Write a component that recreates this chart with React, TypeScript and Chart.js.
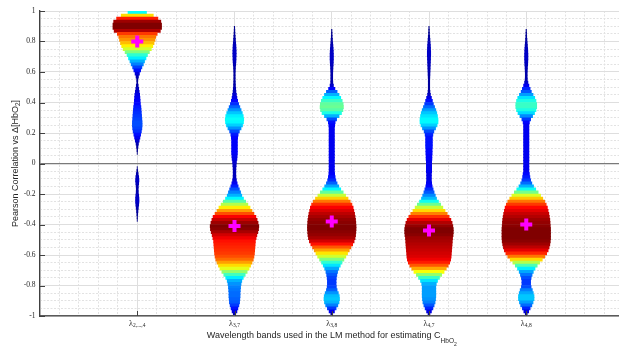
import React, { useEffect, useRef } from 'react';
import { Chart, registerables } from 'chart.js';

Chart.register(...registerables);

// Category positions on the x axis and their band labels (λ with subscript)
const GROUP_POSITIONS = [1, 2, 3, 4, 5];
const GROUP_SUBSCRIPTS = ['2,...,4', '3,7', '3,8', '4,7', '4,8'];

// Mean correlation of each group (magenta markers)
const MEAN_VALUES = [0.8, -0.41, -0.38, -0.44, -0.4];

// Major y tick values
const Y_TICK_VALUES = [-1, -0.8, -0.6, -0.4, -0.2, 0, 0.2, 0.4, 0.6, 0.8, 1];

// Density bins: centres from 0.99 down to -0.99 in steps of 0.02
const BIN_STEP = 0.02;
const BIN_CENTERS = Array.from({ length: 100 }, (_, i) => Math.round((0.99 - BIN_STEP * i) * 100) / 100);

// Normalised densities per bin (top to bottom), one array per group
const DENSITY_L2_4 = [
  0.38, 0.66, 0.85, 0.97, 1.0, 1.0, 0.95, 0.82, 0.76, 0.73,
  0.69, 0.64, 0.58, 0.5, 0.42, 0.36, 0.3, 0.25, 0.19, 0.14,
  0.09, 0.05, 0.025, 0.02, 0.04, 0.06, 0.08, 0.1, 0.11, 0.12,
  0.13, 0.15, 0.16, 0.17, 0.18, 0.19, 0.2, 0.2, 0.19, 0.17,
  0.14, 0.11, 0.08, 0.05, 0.03, 0.015, 0.005, 0, 0, 0,
  0, 0.005, 0.02, 0.04, 0.06, 0.07, 0.06, 0.045, 0.04, 0.045,
  0.06, 0.07, 0.07, 0.06, 0.045, 0.03, 0.02, 0.01, 0.005, 0,
  0, 0, 0, 0, 0, 0, 0, 0, 0, 0,
  0, 0, 0, 0, 0, 0, 0, 0, 0, 0,
  0, 0, 0, 0, 0, 0, 0, 0, 0, 0,
];
const DENSITY_L3_7 = [
  0, 0, 0, 0, 0, 0.01, 0.015, 0.02, 0.03, 0.04,
  0.05, 0.06, 0.065, 0.07, 0.07, 0.065, 0.06, 0.05, 0.04, 0.035,
  0.03, 0.03, 0.03, 0.035, 0.04, 0.05, 0.06, 0.08, 0.1, 0.13,
  0.17, 0.22, 0.27, 0.32, 0.36, 0.38, 0.37, 0.33, 0.27, 0.2,
  0.15, 0.13, 0.12, 0.12, 0.12, 0.12, 0.12, 0.11, 0.1, 0.08,
  0.07, 0.06, 0.055, 0.055, 0.06, 0.08, 0.11, 0.15, 0.2, 0.25,
  0.3, 0.37, 0.46, 0.55, 0.64, 0.72, 0.8, 0.88, 0.93, 0.97,
  1.0, 0.99, 0.96, 0.92, 0.89, 0.86, 0.85, 0.84, 0.83, 0.82,
  0.8, 0.77, 0.72, 0.66, 0.6, 0.52, 0.44, 0.36, 0.3, 0.27,
  0.25, 0.24, 0.23, 0.23, 0.22, 0.21, 0.18, 0.14, 0.1, 0.05,
];
const DENSITY_L3_8 = [
  0, 0, 0, 0, 0, 0, 0.01, 0.015, 0.02, 0.03,
  0.04, 0.05, 0.06, 0.065, 0.07, 0.07, 0.065, 0.06, 0.05, 0.045,
  0.04, 0.04, 0.04, 0.045, 0.07, 0.13, 0.22, 0.3, 0.37, 0.43,
  0.47, 0.48, 0.46, 0.4, 0.3, 0.2, 0.14, 0.12, 0.11, 0.11,
  0.11, 0.11, 0.11, 0.11, 0.11, 0.11, 0.11, 0.11, 0.11, 0.11,
  0.11, 0.11, 0.11, 0.12, 0.14, 0.17, 0.22, 0.29, 0.37, 0.47,
  0.57, 0.67, 0.76, 0.83, 0.88, 0.91, 0.94, 0.96, 0.98, 0.99,
  1.0, 1.0, 0.99, 0.98, 0.96, 0.92, 0.86, 0.79, 0.72, 0.65,
  0.58, 0.5, 0.42, 0.35, 0.29, 0.24, 0.21, 0.19, 0.18, 0.18,
  0.19, 0.22, 0.27, 0.31, 0.32, 0.3, 0.25, 0.18, 0.11, 0.04,
];
const DENSITY_L4_7 = [
  0, 0, 0, 0, 0, 0.01, 0.015, 0.02, 0.03, 0.04,
  0.05, 0.06, 0.065, 0.07, 0.07, 0.065, 0.06, 0.055, 0.05, 0.045,
  0.04, 0.035, 0.03, 0.03, 0.03, 0.03, 0.04, 0.06, 0.1, 0.14,
  0.18, 0.23, 0.28, 0.32, 0.35, 0.37, 0.37, 0.33, 0.27, 0.2,
  0.16, 0.14, 0.14, 0.14, 0.14, 0.13, 0.13, 0.12, 0.12, 0.11,
  0.11, 0.11, 0.11, 0.1, 0.1, 0.1, 0.11, 0.13, 0.17, 0.21,
  0.26, 0.31, 0.39, 0.48, 0.57, 0.66, 0.75, 0.83, 0.9, 0.95,
  0.98, 1.0, 1.0, 0.99, 0.97, 0.96, 0.95, 0.94, 0.93, 0.92,
  0.91, 0.89, 0.85, 0.79, 0.71, 0.62, 0.52, 0.43, 0.35, 0.3,
  0.28, 0.28, 0.28, 0.28, 0.27, 0.25, 0.21, 0.16, 0.1, 0.04,
];
const DENSITY_L4_8 = [
  0, 0, 0, 0, 0, 0, 0.01, 0.015, 0.02, 0.03,
  0.04, 0.05, 0.06, 0.065, 0.07, 0.07, 0.065, 0.06, 0.05, 0.045,
  0.04, 0.04, 0.045, 0.07, 0.11, 0.16, 0.21, 0.28, 0.35, 0.4,
  0.43, 0.43, 0.4, 0.34, 0.26, 0.18, 0.13, 0.11, 0.11, 0.11,
  0.11, 0.11, 0.11, 0.11, 0.11, 0.11, 0.11, 0.11, 0.11, 0.11,
  0.11, 0.11, 0.11, 0.13, 0.15, 0.18, 0.23, 0.3, 0.39, 0.49,
  0.59, 0.68, 0.76, 0.82, 0.87, 0.9, 0.93, 0.95, 0.97, 0.98,
  0.99, 1.0, 1.0, 1.0, 1.0, 0.99, 0.97, 0.94, 0.9, 0.84,
  0.76, 0.66, 0.55, 0.45, 0.36, 0.29, 0.24, 0.2, 0.18, 0.18,
  0.2, 0.25, 0.29, 0.32, 0.32, 0.28, 0.23, 0.16, 0.1, 0.04,
];
const DENSITIES = [DENSITY_L2_4, DENSITY_L3_7, DENSITY_L3_8, DENSITY_L4_7, DENSITY_L4_8];

// Drawing constants
const CANVAS_W = 640;
const CANVAS_H = 347;
const VIOLIN_HALF_WIDTH = 0.25; // in x-axis units, for density 1
const TEXT_COLOR = '#262626';
const AXIS_COLOR = '#404040';
const MAJOR_GRID = '#dedede';
const MINOR_GRID = '#e2e2e2';
const SERIF = '"Liberation Serif", "DejaVu Serif", serif';
const SANS = '"Liberation Sans", Arial, sans-serif';

// MATLAB-style jet colour map
function jet(t: number): string {
  const clamp = (v: number) => Math.max(0, Math.min(1, v));
  const r = clamp(1.5 - Math.abs(4 * t - 3));
  const g = clamp(1.5 - Math.abs(4 * t - 2));
  const b = clamp(1.5 - Math.abs(4 * t - 1));
  return `rgb(${Math.round(r * 255)}, ${Math.round(g * 255)}, ${Math.round(b * 255)})`;
}

type Seg = { text: string; size: number; dy: number; family: string };

// Draws a run of text segments (for subscripts) centred on cx
function drawSegments(ctx: CanvasRenderingContext2D, segs: Seg[], cx: number, baseY: number) {
  let total = 0;
  const widths = segs.map((s) => {
    ctx.font = `${s.size}px ${s.family}`;
    const w = ctx.measureText(s.text).width;
    total += w;
    return w;
  });
  let x = cx - total / 2;
  ctx.textAlign = 'left';
  ctx.textBaseline = 'alphabetic';
  segs.forEach((s, i) => {
    ctx.font = `${s.size}px ${s.family}`;
    ctx.fillText(s.text, x, baseY + s.dy);
    x += widths[i];
  });
}

const axisDecorations = {
  id: 'axisDecorations',
  afterDraw(chart: any) {
    const { ctx, chartArea, scales } = chart;
    const xs = scales.x;
    const ys = scales.y;
    ctx.save();

    // inward tick marks
    ctx.strokeStyle = AXIS_COLOR;
    ctx.lineWidth = 1;
    Y_TICK_VALUES.forEach((v) => {
      const py = Math.round(ys.getPixelForValue(v)) + 0.5;
      ctx.beginPath();
      ctx.moveTo(chartArea.left, py);
      ctx.lineTo(chartArea.left + 5, py);
      ctx.stroke();
    });
    GROUP_POSITIONS.forEach((p) => {
      const px = Math.round(xs.getPixelForValue(p)) + 0.5;
      ctx.beginPath();
      ctx.moveTo(px, chartArea.bottom);
      ctx.lineTo(px, chartArea.bottom - 5);
      ctx.stroke();
    });

    ctx.fillStyle = TEXT_COLOR;

    // x tick labels: λ with subscript
    GROUP_POSITIONS.forEach((p, i) => {
      const px = xs.getPixelForValue(p);
      drawSegments(
        ctx,
        [
          { text: 'λ', size: 8, dy: 0, family: SERIF },
          { text: GROUP_SUBSCRIPTS[i], size: 5.5, dy: 1.5, family: SERIF },
        ],
        px,
        chartArea.bottom + 9.7
      );
    });

    // x axis title
    drawSegments(
      ctx,
      [
        { text: 'Wavelength bands used in the LM method for estimating C', size: 9, dy: 0, family: SANS },
        { text: 'HbO', size: 6.5, dy: 4.5, family: SANS },
        { text: '2', size: 5, dy: 8, family: SANS },
      ],
      (chartArea.left + chartArea.right) / 2,
      338
    );

    // y axis title (rotated)
    ctx.translate(17.5, (chartArea.top + chartArea.bottom) / 2);
    ctx.rotate(-Math.PI / 2);
    drawSegments(
      ctx,
      [
        { text: 'Pearson Correlation vs Δ[HbO', size: 9, dy: 0, family: SANS },
        { text: '2', size: 6.5, dy: 2.5, family: SANS },
        { text: ']', size: 9, dy: 0, family: SANS },
      ],
      0,
      0
    );
    ctx.restore();
  },
};

const isMultipleOf = (v: number, step: number) => Math.abs(v / step - Math.round(v / step)) < 1e-6;

export default function App() {
  const canvasRef = useRef<HTMLCanvasElement>(null);

  useEffect(() => {
    const canvas = canvasRef.current;
    if (!canvas) return;

    const violinSets = DENSITIES.map((dens, k) => {
      const pos = GROUP_POSITIONS[k];
      const rows = BIN_CENTERS.map((c, i) => ({ c, d: dens[i] })).filter((r) => r.d > 0);
      return {
        type: 'bar' as const,
        indexAxis: 'y' as const,
        xAxisID: 'x',
        yAxisID: 'y',
        data: rows.map((r) => ({ y: r.c, x: [pos - r.d * VIOLIN_HALF_WIDTH, pos + r.d * VIOLIN_HALF_WIDTH] })),
        backgroundColor: rows.map((r) => jet(r.d)),
        borderWidth: 0,
        barPercentage: 1,
        categoryPercentage: 1,
        grouped: false,
        order: 2,
      };
    });

    const meanSet = {
      type: 'scatter' as const,
      xAxisID: 'x',
      yAxisID: 'y',
      data: GROUP_POSITIONS.map((p, i) => ({ x: p, y: MEAN_VALUES[i] })),
      pointStyle: 'cross',
      pointRadius: 6,
      pointBorderWidth: 4,
      pointBorderColor: '#ff00ff',
      pointBackgroundColor: '#ff00ff',
      showLine: false,
      order: 0,
    };

    const chart = new Chart(canvas, {
      type: 'scatter',
      data: { datasets: [meanSet as any, ...(violinSets as any[])] },
      options: {
        responsive: false,
        animation: false,
        events: [],
        layout: { padding: { left: 0, top: 11, right: 16.5, bottom: 0 } },
        plugins: { legend: { display: false }, tooltip: { enabled: false } },
        scales: {
          x: {
            type: 'linear',
            position: 'bottom',
            min: 0,
            max: 6,
            offset: false,
            afterBuildTicks: (s: any) => {
              s.ticks = [0, ...GROUP_POSITIONS, 6].map((v) => ({ value: v }));
            },
            afterFit: (s: any) => {
              s.height = 31;
            },
            ticks: { display: false },
            grid: { drawTicks: false, color: MAJOR_GRID, lineWidth: 1, offset: false },
            border: { display: true, color: '#5a5a5a', width: 1.5, z: 1 },
          },
          xMinor: {
            type: 'linear',
            axis: 'x',
            position: 'bottom',
            min: 0,
            max: 6,
            afterBuildTicks: (s: any) => {
              s.ticks = Array.from({ length: 31 }, (_, i) => ({ value: Math.round(i * 0.2 * 10) / 10 }));
            },
            afterFit: (s: any) => {
              s.height = 0;
            },
            ticks: { display: false },
            grid: {
              drawTicks: false,
              color: (c: any) => (c.tick && isMultipleOf(c.tick.value, 1) ? 'rgba(0,0,0,0)' : MINOR_GRID),
            },
            border: { display: false, dash: [2, 1.5] },
          },
          y: {
            type: 'linear',
            position: 'left',
            min: -1,
            max: 1,
            offset: false,
            afterBuildTicks: (s: any) => {
              s.ticks = Y_TICK_VALUES.map((v) => ({ value: v }));
            },
            afterFit: (s: any) => {
              s.width = 40;
            },
            ticks: {
              font: { family: SERIF, size: 7.5 },
              color: TEXT_COLOR,
              padding: 4.5,
              callback: (v: any) => String(Math.round(Number(v) * 10) / 10),
            },
            grid: {
              drawTicks: false,
              offset: false,
              color: (c: any) => (c.tick && c.tick.value === 0 ? '#7a7a7a' : MAJOR_GRID),
              lineWidth: (c: any) => (c.tick && c.tick.value === 0 ? 1.3 : 1),
            },
            border: { display: true, color: AXIS_COLOR, width: 1.3, z: 1 },
          },
          yMinor: {
            type: 'linear',
            axis: 'y',
            position: 'left',
            min: -1,
            max: 1,
            afterBuildTicks: (s: any) => {
              s.ticks = Array.from({ length: 41 }, (_, i) => ({ value: Math.round((-1 + i * 0.05) * 100) / 100 }));
            },
            afterFit: (s: any) => {
              s.width = 0;
            },
            ticks: { display: false },
            grid: {
              drawTicks: false,
              color: (c: any) => (c.tick && isMultipleOf(c.tick.value, 0.2) ? 'rgba(0,0,0,0)' : MINOR_GRID),
            },
            border: { display: false, dash: [2, 1.5] },
          },
        },
      } as any,
      plugins: [axisDecorations],
    });

    return () => chart.destroy();
  }, []);

  return (
    <div style={{ position: 'fixed', left: 0, top: 0, width: CANVAS_W, height: CANVAS_H, background: '#ffffff' }}>
      <canvas
        ref={canvasRef}
        width={CANVAS_W}
        height={CANVAS_H}
        style={{ display: 'block', width: CANVAS_W, height: CANVAS_H }}
      />
    </div>
  );
}
